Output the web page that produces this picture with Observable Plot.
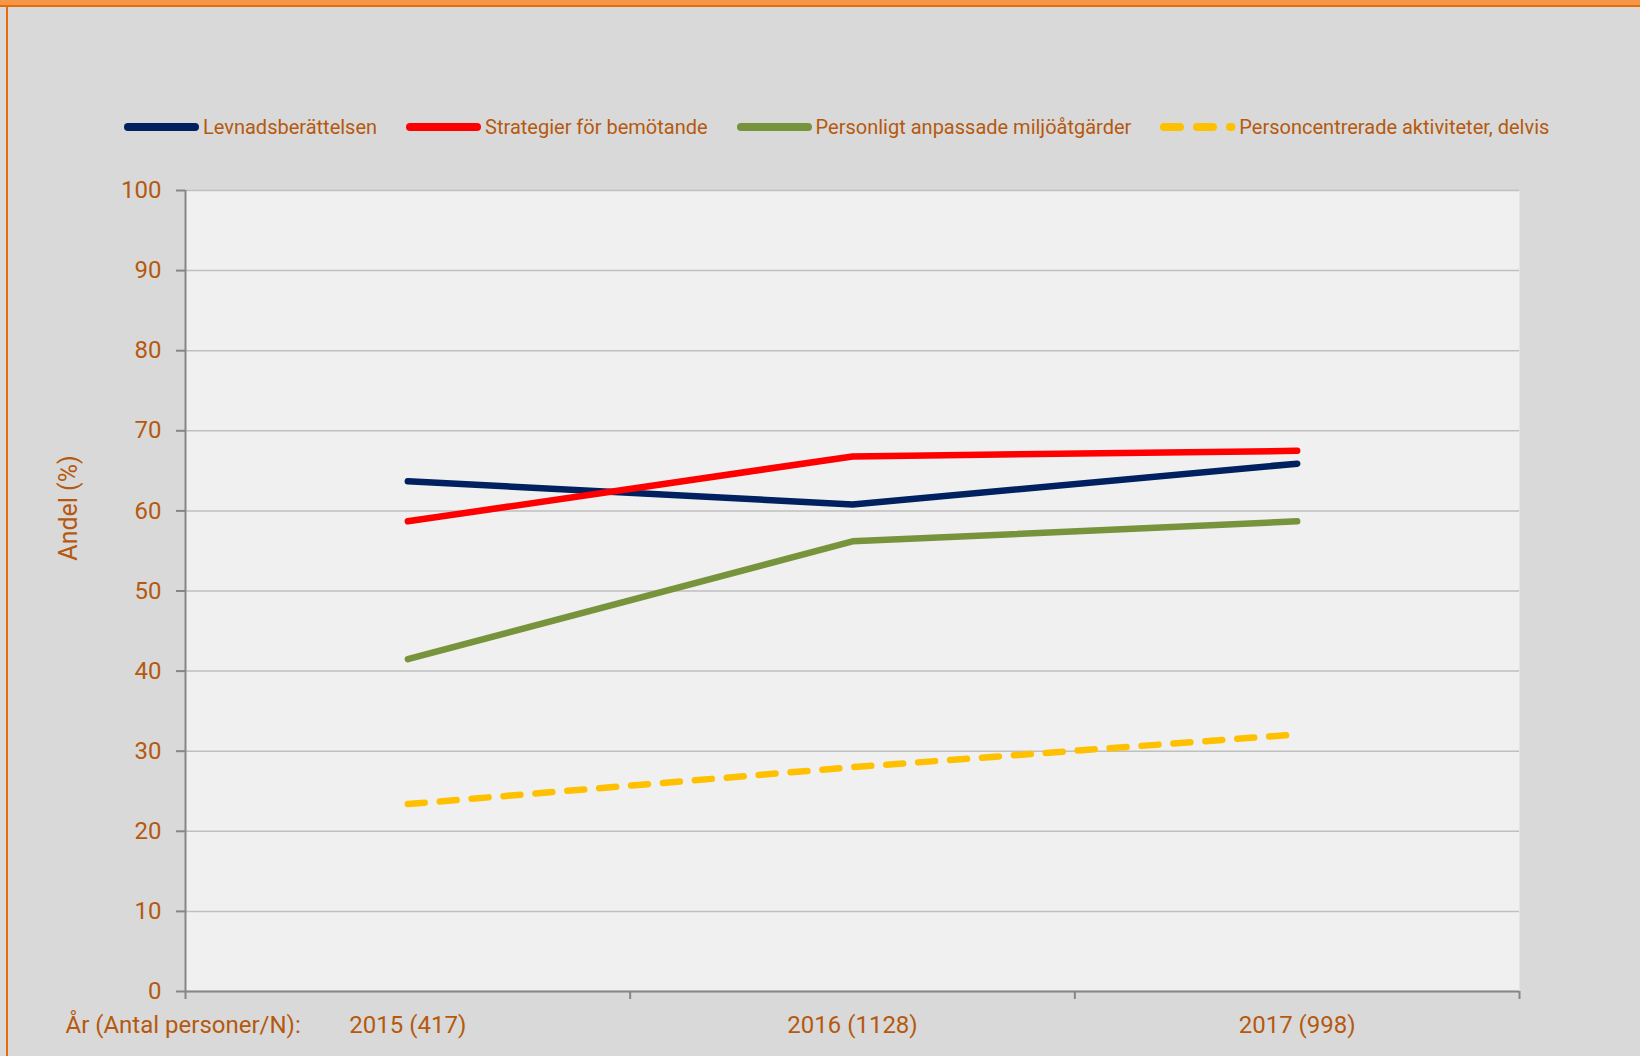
<!DOCTYPE html>
<html><head><meta charset="utf-8">
<script src="https://cdn.jsdelivr.net/npm/d3@7"></script>
<script src="https://cdn.jsdelivr.net/npm/@observablehq/plot@0.6"></script>
<style>
html,body{margin:0;padding:0;}
body{width:1640px;height:1056px;background:#d9d9d9;position:relative;overflow:hidden;font-family:Roboto,sans-serif;}
#topband{position:absolute;left:0;top:0;width:1640px;height:5px;background:#f79646;border-bottom:2px solid #e46c0a;}
#leftline{position:absolute;left:6px;top:5px;width:2px;height:1051px;background:#e46c0a;}
#legend{position:absolute;left:124px;top:112px;height:30px;display:flex;align-items:center;color:#b5590f;font-size:20px;white-space:nowrap;}
.item{display:flex;align-items:center;margin-right:29px;}
.item svg{margin-right:3px;display:block;}
#chart{position:absolute;left:0;top:150px;}
</style>
</head>
<body>
<div id="topband"></div>
<div id="leftline"></div>
<div id="legend"></div>
<div id="chart"></div>
<script>
// ---- data ----
const categories = ["2015 (417)", "2016 (1128)", "2017 (998)"];
const seriesNames = ["Levnadsberättelsen", "Strategier för bemötande", "Personligt anpassade miljöåtgärder", "Personcentrerade aktiviteter, delvis"];
const levnadsberattelsen = [63.7, 60.8, 65.9];
const strategier = [58.7, 66.8, 67.5];
const miljoatgarder = [41.5, 56.2, 58.7];
const aktiviteter = [23.4, 28.0, 32.1];
const seriesColors = ["#002060", "#ff0000", "#77933c", "#ffc000"];
const dashedSeries = ["Personcentrerade aktiviteter, delvis"];
const yTicks = [0, 10, 20, 30, 40, 50, 60, 70, 80, 90, 100];
const yLabel = "Andel (%)";
const xLabel = "År (Antal personer/N):";

const textColor = "#b5590f";
const axisGray = "#868686";

const valuesList = [levnadsberattelsen, strategier, miljoatgarder, aktiviteter];
const data = seriesNames.flatMap((s, k) => valuesList[k].map((v, i) => ({series: s, i, cat: categories[i], value: v})));
const solid = data.filter(d => !dashedSeries.includes(d.series));
const dashed = data.filter(d => dashedSeries.includes(d.series));
const centers = categories.map((c, i) => i + 0.5);
const edges = d3.range(categories.length + 1);

// ---- legend ----
const legend = document.getElementById("legend");
seriesNames.forEach((s, k) => {
  const item = document.createElement("div");
  item.className = "item";
  const isDashed = dashedSeries.includes(s);
  item.innerHTML = `<svg width="76" height="12"><line x1="4" x2="${isDashed ? 71.5 : 71}" y1="6" y2="6" stroke="${seriesColors[k]}" stroke-width="8" stroke-linecap="round" ${isDashed ? 'stroke-dasharray="16 17"' : ''}/></svg><span>${s}</span>`;
  legend.appendChild(item);
});

// ---- chart ----
const chart = Plot.plot({
  width: 1640,
  height: 906,
  marginTop: 40,
  marginBottom: 65,
  marginLeft: 185,
  marginRight: 121,
  style: {background: "transparent", fontFamily: "Roboto, sans-serif", color: textColor},
  x: {type: "linear", domain: [0, categories.length]},
  y: {domain: [0, 100]},
  color: {domain: seriesNames, range: seriesColors},
  marks: [
    Plot.frame({fill: "#f0f0f0", stroke: "none"}),
    Plot.gridY(yTicks, {stroke: "#bfbfbf", strokeOpacity: 1, strokeWidth: 1.5}),
    Plot.ruleX([0], {stroke: axisGray, strokeWidth: 2}),
    Plot.ruleY([0], {stroke: axisGray, strokeWidth: 2}),
    Plot.axisY(yTicks, {tickSize: 9, tickPadding: 15, fontSize: 24, stroke: axisGray, strokeWidth: 2, fill: textColor, label: null}),
    Plot.axisX(edges, {tickSize: 8, tickFormat: () => "", stroke: axisGray, strokeWidth: 2, label: null}),
    Plot.axisX(centers, {tickSize: 0, tickPadding: 24, tickFormat: d => categories[Math.floor(d)], fontSize: 24, fill: textColor, label: null}),
    Plot.text([xLabel], {text: d => d, frameAnchor: "bottom-left", dx: -120, dy: 24, lineAnchor: "top", textAnchor: "start", fontSize: 24, fill: textColor}),
    Plot.text([yLabel], {text: d => d, frameAnchor: "left", dx: -117, dy: -83, rotate: -90, lineAnchor: "middle", textAnchor: "middle", fontSize: 25, fill: textColor}),
    Plot.line(solid, {x: d => d.i + 0.5, y: "value", z: "series", stroke: "series", strokeWidth: 6.5, strokeLinecap: "round", strokeLinejoin: "round"}),
    Plot.line(dashed, {x: d => d.i + 0.5, y: "value", z: "series", stroke: "series", strokeWidth: 6.5, strokeLinecap: "round", strokeLinejoin: "round", strokeDasharray: "17,15"})
  ]
});
document.getElementById("chart").appendChild(chart);
</script>
</body></html>
